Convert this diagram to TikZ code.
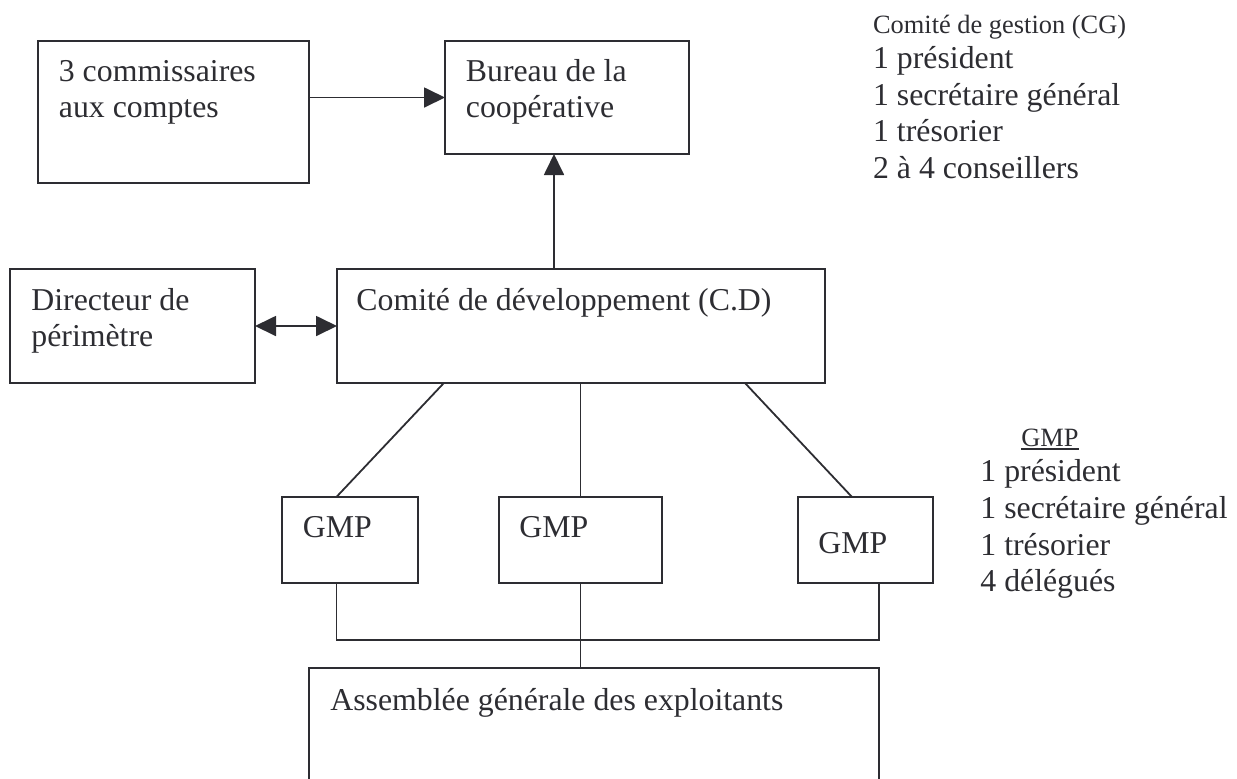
\documentclass[tikz,border=0pt]{standalone}
\usepackage{fontspec}
\setmainfont{Liberation Serif}
\usetikzlibrary{arrows.meta,fit,calc}
\definecolor{ink}{RGB}{45,45,50}
\begin{document}
\begin{tikzpicture}[x=0.5pt,y=-0.5pt,
  box/.style={draw=ink, line width=1pt, inner sep=0pt, outer sep=0pt},
  lbl/.style={anchor=base west, inner sep=0pt, text=ink, font=\fontsize{15.9}{18.3}\selectfont},
  small/.style={anchor=base west, inner sep=0pt, text=ink, font=\fontsize{13.2}{15}\selectfont},
  conn/.style={draw=ink, line width=0.9pt},
  tip/.tip={Triangle[length=10.5pt,width=10pt]},
  arr/.style={conn, -tip},
  darr/.style={conn, tip-tip}]
\useasboundingbox (0,0) rectangle (1237,778);
\clip (0,0) rectangle (1237,778);

% boxes
\node[box, fit={(38,41) (309,183)}] (com) {};
\node[box, fit={(445,41) (689,154)}] (bur) {};
\node[box, fit={(10,269) (255,383)}] (dir) {};
\node[box, fit={(337,269) (825,383)}] (cd) {};
\node[box, fit={(282,497) (418,583)}] (g1) {};
\node[box, fit={(499,497) (662,583)}] (g2) {};
\node[box, fit={(798,497) (933,583)}] (g3) {};
\node[box, fit={(309,668) (879,820)}] (ag) {};

% box texts
\node[lbl] (comA) at (58.5,81) {3 commissaires};
\node[lbl] (comB) at (58.5,117.5) {aux comptes};
\node[lbl] (burA) at (465.5,81) {Bureau de la};
\node[lbl] (burB) at (465.5,117.5) {coopérative};
\node[lbl] (dirA) at (31,310) {Directeur de};
\node[lbl] (dirB) at (31,346.5) {périmètre};
\node[lbl] (cdA) at (356,310) {Comité de développement (C.D)};
\node[lbl] (g1t) at (302.5,537) {GMP};
\node[lbl] (g2t) at (519,537) {GMP};
\node[lbl] (g3t) at (818,553) {GMP};
\node[lbl] (agt) at (330,710) {Assemblée générale des exploitants};

% management committee list
\node[small] (cgH) at (872.7,33.3) {Comité de gestion (CG)};
\node[lbl] (cg1) at (872.7,68.3) {1 président};
\node[lbl] (cg2) at (872.7,105) {1 secrétaire général};
\node[lbl] (cg3) at (872.7,141.7) {1 trésorier};
\node[lbl] (cg4) at (872.7,178.4) {2 à 4 conseillers};

% GMP list
\node[small] (gmH) at (1021,446) {GMP};
\draw[ink, line width=0.7pt] ([yshift=-1.5pt]gmH.base west) -- ([yshift=-1.5pt]gmH.base east);
\node[lbl] (gm1) at (980,481.6) {1 président};
\node[lbl] (gm2) at (980,518.3) {1 secrétaire général};
\node[lbl] (gm3) at (980,555) {1 trésorier};
\node[lbl] (gm4) at (980,591.7) {4 délégués};

% connectors
\draw[arr] (com.east |- bur.west) -- (bur.west);
\coordinate (upx) at (554,0);
\draw[arr] (cd.north -| upx) -- (bur.south -| upx);
\draw[darr] (dir.east) -- (cd.west);

\draw[conn] ($(cd.south west)!0.219!(cd.south east)$) -- ($(g1.north west)!0.4!(g1.north east)$);
\draw[conn] (g2.north |- cd.south) -- (g2.north);
\draw[conn] ($(cd.south west)!0.836!(cd.south east)$) -- ($(g3.north west)!0.4!(g3.north east)$);

\coordinate (bus) at (0,640);
\coordinate (g1b) at ($(g1.south west)!0.4!(g1.south east)$);
\coordinate (g3b) at ($(g3.south west)!0.6!(g3.south east)$);
\draw[conn] (g1b) -- (g1b |- bus) -- (g3b |- bus) -- (g3b);
\draw[conn] (g2.south) -- (g2.south |- ag.north);
\end{tikzpicture}
\end{document}
